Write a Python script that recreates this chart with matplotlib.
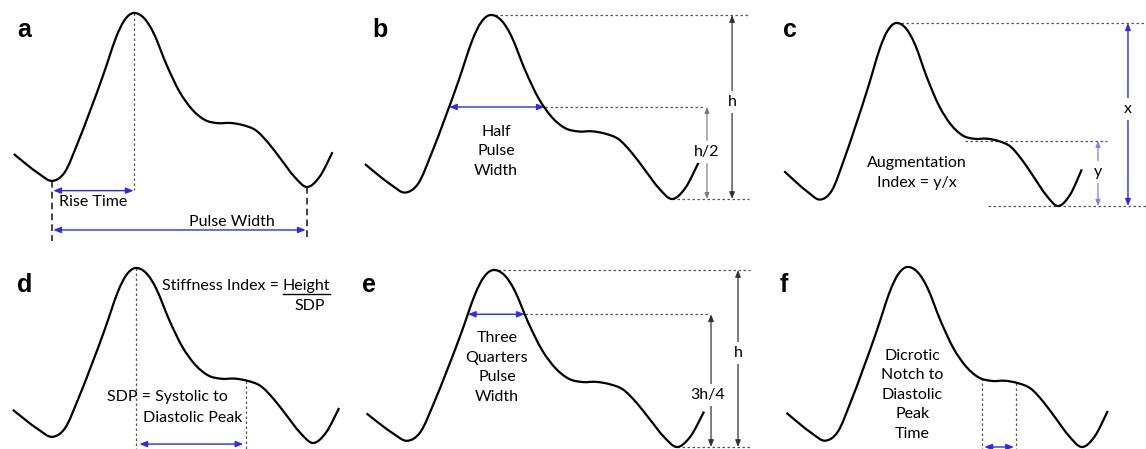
import numpy as np
import matplotlib
matplotlib.use("Agg")
import matplotlib.pyplot as plt
from matplotlib.path import Path
from matplotlib.patches import PathPatch

plt.rcParams['font.family'] = ['Lato', 'DejaVu Sans']

# normalised pulse waveform: t runs foot-to-foot (0..1), v runs foot-to-peak (0..1)
wave_t = [-0.15, -0.10, -0.05, 0.0, 0.05, 0.10, 0.15, 0.20, 0.25, 0.285, 0.32, 0.36,
          0.40, 0.45, 0.50, 0.55, 0.60, 0.65, 0.70, 0.75, 0.80, 0.85, 0.90, 0.95,
          1.0, 1.05, 1.10]
wave_v = [0.19, 0.13, 0.075, 0.035, 0.085, 0.25, 0.44, 0.64, 0.855, 0.96, 1.0, 0.972,
          0.88, 0.70, 0.548, 0.445, 0.385, 0.367, 0.368, 0.355, 0.325, 0.25, 0.155, 0.06,
          0.0, 0.06, 0.20]

half_level = 0.5
three_quarter_level = 0.75
notch_t = 0.61        # dicrotic notch
diastolic_t = 0.745   # diastolic peak

W, H = 1146, 449
# pixel placement of each panel: foot x, foot-to-foot width, baseline y, peak height
PANELS = {'a': (52, 255, 187, 174), 'b': (405, 267, 199, 184), 'c': (820, 238, 206, 183),
          'd': (52, 261, 443, 175), 'e': (407, 270, 447, 177), 'f': (825, 257, 447, 180)}
LETTERS = {'a': (17, 37), 'b': (372, 37), 'c': (783, 37),
           'd': (17, 292), 'e': (362, 292), 'f': (780, 292)}

BLUE = '#2b2bf0'
FS = 11.5
LS = 1.5

t_arr = np.array(wave_t)
v_arr = np.array(wave_v)
i_peak = int(np.argmax(v_arr))
t_peak = t_arr[i_peak]
v_peak = v_arr[i_peak]


def smooth_path(t, v):
    pts = np.column_stack([t, v])
    verts = [pts[0]]
    codes = [Path.MOVETO]
    n = len(pts)
    for i in range(n - 1):
        p0 = pts[i - 1] if i > 0 else pts[i]
        p1, p2 = pts[i], pts[i + 1]
        p3 = pts[i + 2] if i + 2 < n else pts[i + 1]
        verts += [p1 + (p2 - p0) / 6.0, p2 - (p3 - p1) / 6.0, p2]
        codes += [Path.CURVE4] * 3
    return Path(verts, codes)


def crossing(level):
    up = np.interp(level, v_arr[:i_peak + 1], t_arr[:i_peak + 1])
    i_foot = i_peak + int(np.argmin(v_arr[i_peak:]))
    fall_t = t_arr[i_peak:i_foot + 1]
    fall_v = v_arr[i_peak:i_foot + 1]
    down = np.interp(level, fall_v[::-1], fall_t[::-1])
    return up, down


def level_at(t):
    return np.interp(t, t_arr, v_arr)


def dotted(ax, xs, ys, color='#555555'):
    ax.plot(xs, ys, color=color, lw=0.9, ls=(0, (2, 2)), clip_on=False)


def arrow(ax, p1, p2, color=BLUE, lw=1.0, scale=9):
    ax.annotate('', xy=p2, xytext=p1, annotation_clip=False,
                arrowprops=dict(arrowstyle='<|-|>,head_length=0.5,head_width=0.2',
                                color=color, lw=lw, shrinkA=0, shrinkB=0,
                                mutation_scale=scale))


def label(ax, x, y, s, **kw):
    opts = dict(ha='center', va='center', fontsize=FS, color='black', zorder=6,
                linespacing=LS)
    opts.update(kw)
    return ax.text(x, y, s, **opts)


def gap_label(ax, x, y, s):
    label(ax, x, y, s, bbox=dict(fc='white', ec='none', pad=3))


fig = plt.figure(figsize=(W / 100, H / 100), dpi=100)
axes = {}
for key, (x0, w, yb, hgt) in PANELS.items():
    ax = fig.add_axes([x0 / W, (H - yb) / H, w / W, hgt / H])
    ax.set_xlim(0, 1)
    ax.set_ylim(0, 1)
    ax.axis('off')
    ax.add_patch(PathPatch(smooth_path(wave_t, wave_v), fc='none', ec='black',
                           lw=1.6, clip_on=False, zorder=4))
    axes[key] = ax
    lx, ly = LETTERS[key]
    fig.text(lx / W, 1 - ly / H, key, fontsize=18, fontweight='bold',
             family='Liberation Sans', va='baseline')

# a: rise time and pulse width
ax = axes['a']
dotted(ax, [t_peak, t_peak], [v_peak, -0.02])
ax.plot([0, 0], [v_arr[3], -0.31], color='#222222', lw=1.2, ls=(0, (4, 2.5)), clip_on=False)
ax.plot([1, 1], [0, -0.31], color='#222222', lw=1.2, ls=(0, (4, 2.5)), clip_on=False)
arrow(ax, (0.005, -0.021), (t_peak, -0.021))
label(ax, 0.161, -0.088, 'Rise Time')
arrow(ax, (0.005, -0.247), (0.995, -0.247))
label(ax, 0.706, -0.202, 'Pulse Width')

# b: half pulse width
ax = axes['b']
l_half, r_half = crossing(half_level * v_peak)
dotted(ax, [t_peak, 1.29], [v_peak, v_peak])
dotted(ax, [r_half, 1.116], [half_level * v_peak] * 2)
dotted(ax, [1.0, 1.29], [0, 0])
arrow(ax, (l_half, half_level * v_peak), (r_half, half_level * v_peak))
label(ax, 0.341, 0.26, 'Half\nPulse\nWidth')
arrow(ax, (1.225, v_peak), (1.225, 0), color='#333333', lw=0.9, scale=8)
gap_label(ax, 1.225, 0.527, 'h')
arrow(ax, (1.131, half_level * v_peak), (1.131, 0), color='#777777', lw=0.8, scale=7)
gap_label(ax, 1.131, 0.255, 'h/2')

# c: augmentation index
ax = axes['c']
v_dia = level_at(diastolic_t)
dotted(ax, [t_peak, 1.37], [v_peak, v_peak])
dotted(ax, [notch_t, 1.206], [v_dia, v_dia])
dotted(ax, [0.706, 1.37], [0, 0])
arrow(ax, (1.294, v_peak), (1.294, 0), color=BLUE, lw=1.0, scale=8)
gap_label(ax, 1.294, 0.53, 'x')
arrow(ax, (1.168, v_dia), (1.168, 0), color='#7f7ff5', lw=0.9, scale=7)
gap_label(ax, 1.168, 0.186, 'y')
label(ax, 0.408, 0.18, 'Augmentation\nIndex = y/x')

# d: stiffness index
ax = axes['d']
dotted(ax, [t_peak, t_peak], [v_peak, -0.04])
dotted(ax, [diastolic_t, diastolic_t], [level_at(diastolic_t), -0.04])
arrow(ax, (t_peak + 0.015, -0.006), (diastolic_t - 0.012, -0.006))
label(ax, 0.87, 0.897, 'Stiffness Index =', ha='right')
hgt_txt = label(ax, 0.885, 0.897, 'Height', ha='left')
label(ax, 0.989, 0.783, 'SDP')
label(ax, 0.211, 0.263, 'SDP = Systolic to', ha='left')
label(ax, 0.349, 0.143, 'Diastolic Peak', ha='left')

# e: three quarters pulse width
ax = axes['e']
l_tq, r_tq = crossing(three_quarter_level * v_peak)
dotted(ax, [t_peak, 1.27], [v_peak, v_peak])
dotted(ax, [r_tq, 1.122], [three_quarter_level * v_peak] * 2)
dotted(ax, [1.0, 1.27], [0, 0])
arrow(ax, (l_tq, three_quarter_level * v_peak), (r_tq, three_quarter_level * v_peak))
label(ax, 0.333, 0.449, 'Three\nQuarters\nPulse\nWidth')
arrow(ax, (1.226, v_peak), (1.226, 0), color='#333333', lw=0.9, scale=8)
gap_label(ax, 1.226, 0.53, 'h')
arrow(ax, (1.126, three_quarter_level * v_peak), (1.126, 0), color='#333333', lw=0.9, scale=8)
gap_label(ax, 1.115, 0.294, '3h/4')

# f: dicrotic notch to diastolic peak time
ax = axes['f']
dotted(ax, [notch_t, notch_t], [level_at(notch_t), -0.03])
dotted(ax, [diastolic_t, diastolic_t], [level_at(diastolic_t), -0.03])
arrow(ax, (notch_t + 0.01, 0.0), (diastolic_t - 0.01, 0.0))
label(ax, 0.339, 0.29, 'Dicrotic\nNotch to\nDiastolic\nPeak\nTime')

# underline the numerator of the stiffness index
fig.canvas.draw()
bb = hgt_txt.get_window_extent().transformed(axes['d'].transData.inverted())
axes['d'].plot([bb.x0, bb.x1], [bb.y0 - 0.005, bb.y0 - 0.005], color='black',
               lw=1.0, clip_on=False)

fig.savefig('out.png', dpi=100, facecolor='white')
